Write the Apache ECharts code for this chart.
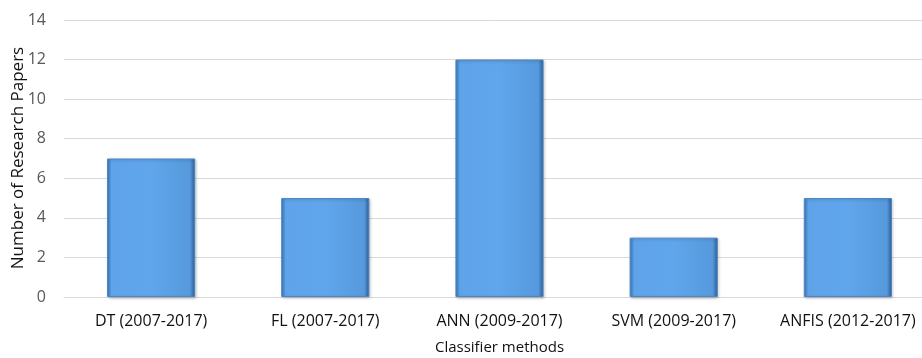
<!DOCTYPE html>
<html><head><meta charset="utf-8">
<script src="https://cdn.jsdelivr.net/npm/echarts@6/dist/echarts.min.js"></script>
<style>html,body{margin:0;padding:0;background:#fff}#c{width:922px;height:358px}</style>
</head><body><div id="c"></div>
<script>
var categories = ['DT (2007-2017)', 'FL (2007-2017)', 'ANN (2009-2017)', 'SVM (2009-2017)', 'ANFIS (2012-2017)'];
var papers = [7, 5, 12, 3, 5];
var yTicks = { min: 0, max: 14, interval: 2 };
var yAxisTitle = 'Number of Research Papers';

var chart = echarts.init(document.getElementById('c'));
var FONT = '"Open Sans", "Noto Sans", sans-serif';
chart.setOption({
  animation: false,
  grid: { left: 64, right: -13, top: 20, bottom: 61, containLabel: false, outerBoundsMode: 'none' },
  graphic: [{
    type: 'text', x: 18, y: 158, rotation: Math.PI / 2,
    style: { text: yAxisTitle, fill: '#111', font: '17px ' + FONT, align: 'center', verticalAlign: 'middle' }
  }],
  xAxis: {
    type: 'category', data: categories,
    name: 'Classifier methods', nameLocation: 'middle', nameGap: 43, nameMoveOverlap: false,
    nameTextStyle: { color: '#111', fontSize: 15, fontFamily: FONT },
    axisLine: { lineStyle: { color: '#d9d9d9' } },
    axisTick: { show: false },
    axisLabel: { color: '#111', fontSize: 16, fontFamily: FONT, margin: 16, interval: 0 }
  },
  yAxis: {
    type: 'value', min: yTicks.min, max: yTicks.max, interval: yTicks.interval,
    axisLine: { show: false }, axisTick: { show: false },
    axisLabel: { color: '#595959', fontSize: 16, fontFamily: FONT, margin: 18 },
    splitLine: { lineStyle: { color: '#d9d9d9' } }
  },
  series: [{
    type: 'bar', data: papers, barWidth: '50.6%',
    itemStyle: {
      color: new echarts.graphic.LinearGradient(0, 0, 1, 0, [
        { offset: 0, color: '#3a78bd' },
        { offset: 0.05, color: '#5fa4ea' },
        { offset: 0.5, color: '#60a6ec' },
        { offset: 0.94, color: '#5699dc' },
        { offset: 1, color: '#2c5f96' }
      ]),
      borderColor: '#4c86c4', borderWidth: 1,
      shadowColor: 'rgba(0,0,0,0.25)', shadowBlur: 3, shadowOffsetX: 1, shadowOffsetY: 1
    }
  }]
});
</script></body></html>
